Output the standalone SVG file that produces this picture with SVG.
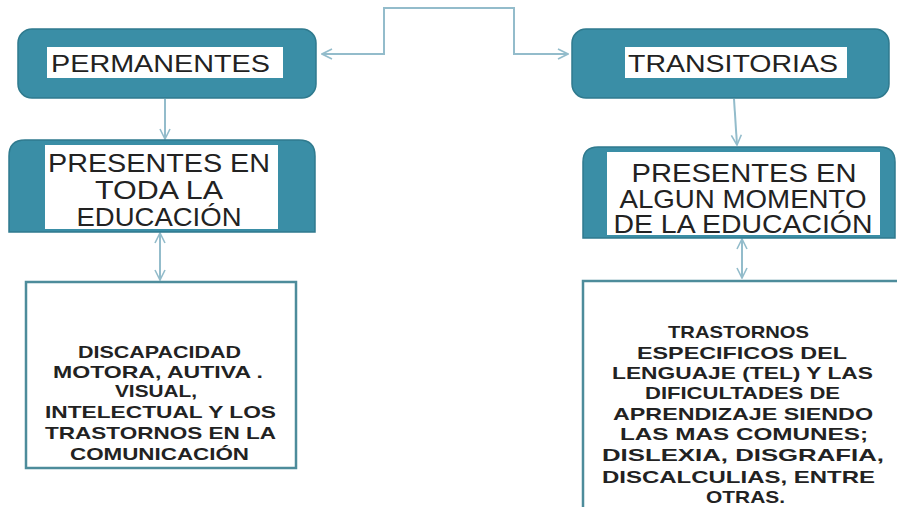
<svg xmlns="http://www.w3.org/2000/svg" width="897" height="507" viewBox="0 0 897 507">
<defs>
<style>
.teal{fill:#3a8ea6;stroke:#2f7a8e;stroke-width:1.5}
.lbl{fill:#ffffff}
.conn{fill:none;stroke:#93bccb;stroke-width:2}
.t1{font-family:"Liberation Sans",Arial,sans-serif;font-size:24px;fill:#222}
.t2{font-family:"Liberation Sans",Arial,sans-serif;font-size:26px;fill:#222;text-anchor:middle}
.t3{font-family:"Liberation Sans",Arial,sans-serif;font-size:17px;font-weight:bold;fill:#222}
.box{fill:#ffffff;stroke:#4d8c9b;stroke-width:2.5}
</style>
<marker id="ah" viewBox="0 0 12 12" refX="11" refY="6" markerWidth="12" markerHeight="12" markerUnits="userSpaceOnUse" orient="auto-start-reverse">
<path d="M1,1 L11,6 L1,11" fill="none" stroke="#93bccb" stroke-width="1.6"/>
</marker>
</defs>
<rect width="897" height="507" fill="#ffffff"/>

<g id="connectors">
<path class="conn" d="M449,8 H384 V54 H322" marker-end="url(#ah)"/>
<path class="conn" d="M449,8 H514 V54 H568" marker-end="url(#ah)"/>
<path class="conn" d="M165,99 V139" marker-end="url(#ah)"/>
<path class="conn" d="M734,99 L737,145" marker-end="url(#ah)"/>
<path class="conn" d="M160,233 V280" marker-start="url(#ah)" marker-end="url(#ah)"/>
<path class="conn" d="M742,239 V278" marker-start="url(#ah)" marker-end="url(#ah)"/>
</g>

<g id="permanentes">
<rect class="teal" x="18" y="29" width="298" height="69" rx="14"/>
<rect class="lbl" x="47" y="47" width="236" height="31"/>
<text class="t1" x="51" y="72" textLength="219" lengthAdjust="spacingAndGlyphs">PERMANENTES</text>
</g>

<g id="transitorias">
<rect class="teal" x="572" y="29" width="317" height="69" rx="14"/>
<rect class="lbl" x="625" y="47" width="222" height="31"/>
<text class="t1" x="628" y="72" textLength="210" lengthAdjust="spacingAndGlyphs">TRANSITORIAS</text>
</g>

<g id="presentes-toda">
<path class="teal" d="M9,232 V156 Q9,140 25,140 H299 Q315,140 315,156 V232 Z"/>
<rect class="lbl" x="45" y="145" width="233" height="84"/>
<text class="t2" x="159" y="172" textLength="222" lengthAdjust="spacingAndGlyphs">PRESENTES EN</text>
<text class="t2" x="159" y="199" textLength="128" lengthAdjust="spacingAndGlyphs">TODA LA</text>
<text class="t2" x="159" y="226" textLength="165" lengthAdjust="spacingAndGlyphs">EDUCACIÓN</text>
</g>

<g id="presentes-algun">
<path class="teal" d="M583,238 V162 Q583,147 598,147 H880 Q895,147 895,162 V238 Z"/>
<rect class="lbl" x="607" y="152" width="273" height="83"/>
<text class="t2" x="744" y="182" textLength="225" lengthAdjust="spacingAndGlyphs">PRESENTES EN</text>
<text class="t2" x="743" y="208" textLength="247" lengthAdjust="spacingAndGlyphs">ALGUN MOMENTO</text>
<text class="t2" x="743" y="233" textLength="259" lengthAdjust="spacingAndGlyphs">DE LA EDUCACIÓN</text>
</g>

<g id="discapacidad">
<rect class="box" x="26" y="282" width="270" height="186"/>
<text class="t3" x="78" y="358" textLength="163" lengthAdjust="spacingAndGlyphs">DISCAPACIDAD</text>
<text class="t3" x="53" y="378" textLength="210" lengthAdjust="spacingAndGlyphs">MOTORA,  AUTIVA  .</text>
<text class="t3" x="115" y="397" textLength="82" lengthAdjust="spacingAndGlyphs">VISUAL,</text>
<text class="t3" x="45" y="418" textLength="231" lengthAdjust="spacingAndGlyphs">INTELECTUAL Y LOS</text>
<text class="t3" x="45" y="439" textLength="231" lengthAdjust="spacingAndGlyphs">TRASTORNOS  EN LA</text>
<text class="t3" x="70" y="460" textLength="179" lengthAdjust="spacingAndGlyphs">COMUNICACIÓN</text>
</g>

<g id="trastornos">
<rect class="box" x="583" y="281" width="330" height="240"/>
<text class="t3" x="668" y="338" textLength="141" lengthAdjust="spacingAndGlyphs">TRASTORNOS</text>
<text class="t3" x="637" y="359" textLength="210" lengthAdjust="spacingAndGlyphs">ESPECIFICOS  DEL</text>
<text class="t3" x="612" y="379" textLength="261" lengthAdjust="spacingAndGlyphs">LENGUAJE (TEL) Y LAS</text>
<text class="t3" x="645" y="399" textLength="195" lengthAdjust="spacingAndGlyphs">DIFICULTADES DE</text>
<text class="t3" x="613" y="420" textLength="260" lengthAdjust="spacingAndGlyphs">APRENDIZAJE  SIENDO</text>
<text class="t3" x="620" y="440" textLength="248" lengthAdjust="spacingAndGlyphs">LAS  MAS  COMUNES;</text>
<text class="t3" x="602" y="461" textLength="282" lengthAdjust="spacingAndGlyphs">DISLEXIA,  DISGRAFIA,</text>
<text class="t3" x="602" y="483" textLength="273" lengthAdjust="spacingAndGlyphs">DISCALCULIAS,  ENTRE</text>
<text class="t3" x="706" y="503" textLength="79" lengthAdjust="spacingAndGlyphs">OTRAS.</text>
</g>
</svg>
